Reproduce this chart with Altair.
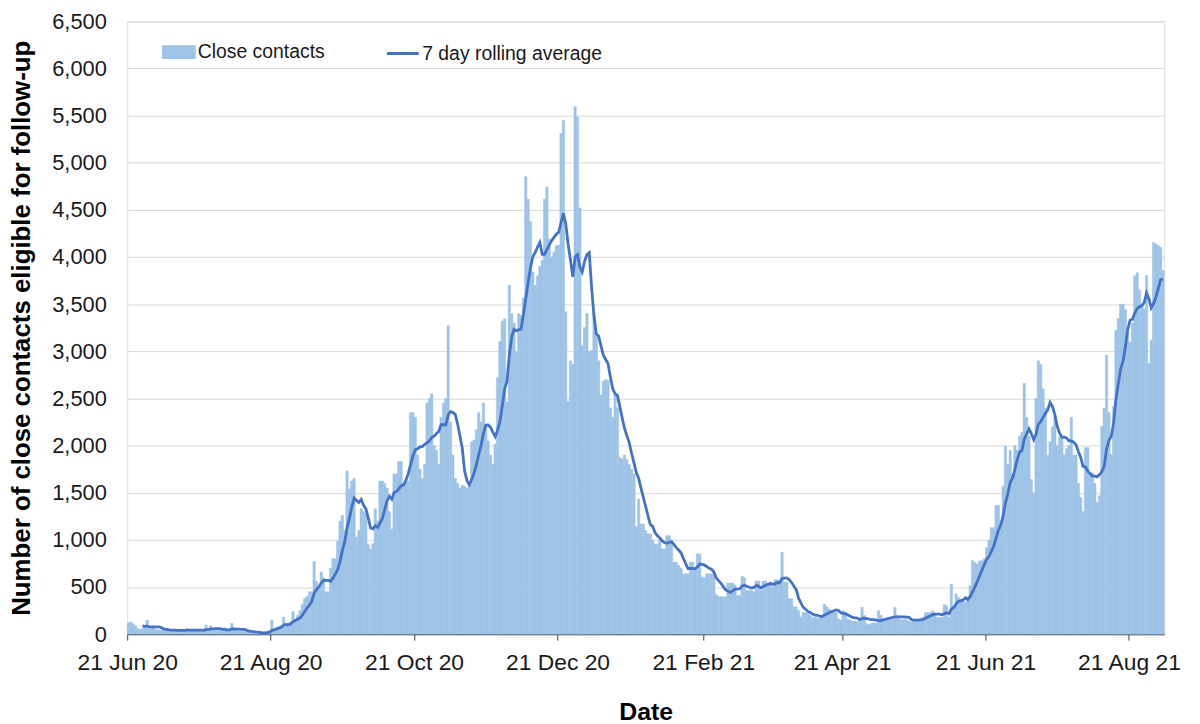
import altair as alt
import pandas as pd
from datetime import datetime, timezone

# Daily close contacts eligible for follow-up (21 Jun 2020 onwards)
jun20 = [120, 130, 110, 90, 60, 50, 60, 80, 150, 80]
jul20 = [70, 60, 50, 45, 40, 45, 50, 40, 35, 40, 45, 35, 40, 45, 40, 60, 40, 35, 40, 45,
         35, 40, 45, 95, 40, 90, 55, 45, 40, 50, 45]
aug20 = [45, 40, 50, 115, 45, 40, 35, 30, 35, 30, 25, 20, 15, 10, 10, 15, 10, 20, 30, 40,
         150, 60, 70, 80, 90, 180, 100, 110, 130, 240, 160]
sep20 = [200, 250, 320, 380, 400, 450, 450, 770, 560, 500, 660, 600, 450, 450, 700, 800,
         800, 990, 1200, 1260, 1100, 1730, 1540, 1625, 1650, 1030, 1100, 1330, 1300, 1280]
oct20 = [950, 900, 960, 1330, 1200, 1625, 1625, 1600, 1550, 1300, 1115, 1700, 1700, 1830,
         1830, 1600, 1640, 1620, 2350, 2350, 2300, 1900, 1750, 1650, 1800, 2450, 2500, 2550,
         2000, 1950, 1800]
nov20 = [2300, 2450, 2500, 3270, 2250, 1900, 1650, 1600, 1550, 1580, 1570, 1550, 1600, 2040,
         2060, 2170, 2350, 2250, 2450, 2200, 2050, 1900, 1800, 2015, 2720, 3106, 3321, 3345,
         2463, 3700]
dec20 = [3400, 3300, 3000, 3400, 3380, 3566, 4852, 4613, 4374, 3841, 3700, 3800, 3900, 3964,
         4613, 4742, 4191, 4000, 4053, 4125, 4124, 5312, 5448, 3420, 2470, 2900, 2860, 5595,
         5484, 4521, 3059]
jan21 = [3253, 3403, 3000, 3012, 3400, 3159, 2900, 2536, 2683, 2700, 2691, 2400, 2300, 2536,
         2400, 1875, 1859, 1900, 1850, 1800, 1750, 1700, 1140, 1434, 1169, 1169, 1100, 1063,
         1063, 1000, 957]
feb21 = [957, 1000, 905, 905, 1045, 1045, 1000, 764, 764, 729, 700, 640, 640, 640, 764, 764,
         700, 852, 850, 605, 600, 640, 640, 640, 640, 420, 400, 400]
mar21 = [394, 400, 542, 542, 542, 520, 412, 412, 612, 600, 465, 465, 465, 450, 563, 563, 465,
         563, 563, 528, 528, 500, 577, 577, 550, 870, 553, 553, 377, 377, 289]
apr21 = [289, 250, 183, 230, 230, 220, 200, 178, 178, 170, 170, 200, 320, 290, 266, 250, 240,
         230, 160, 150, 249, 230, 160, 150, 140, 140, 130, 150, 284, 200]
may21 = [110, 100, 114, 120, 114, 249, 200, 160, 150, 160, 170, 160, 284, 200, 160, 150, 160,
         150, 140, 130, 160, 150, 160, 170, 180, 230, 230, 230, 249, 200, 178]
jun21 = [178, 178, 312, 300, 178, 532, 300, 426, 390, 360, 350, 340, 400, 515, 781, 760, 745,
         778, 778, 800, 919, 1000, 1130, 1130, 1366, 1366, 1200, 1570, 1992, 1800]
jul21 = [1950, 1700, 2000, 1952, 2100, 2140, 2660, 2300, 2100, 1641, 1500, 2500, 2900, 2859,
         2600, 2400, 1900, 2041, 2200, 2300, 2000, 2090, 2100, 1900, 1970, 2000, 2300, 1900,
         1900, 1600, 1450]
aug21 = [1300, 1980, 1980, 1711, 1711, 1600, 1400, 1469, 2204, 2400, 2960, 2350, 1908, 2415,
         3224, 3348, 3500, 3500, 3441, 3200, 3097, 3300, 3800, 3833, 3650, 3500, 3450, 3805,
         2872, 3119, 4157]
sep21 = [4140, 4122, 4104, 3858]

y_ticks = list(range(0, 6501, 500))
x_tick_dates = [(2020, 6, 21), (2020, 8, 21), (2020, 10, 21), (2020, 12, 21),
                (2021, 2, 21), (2021, 4, 21), (2021, 6, 21), (2021, 8, 21)]

BAR_COLOR = "#9DC3E6"
LINE_COLOR = "#4472C4"
FONT = "Liberation Sans"

values = (jun20 + jul20 + aug20 + sep20 + oct20 + nov20 + dec20 + jan21 + feb21 + mar21
          + apr21 + may21 + jun21 + jul21 + aug21 + sep21)

DAY = 86400000
t0 = int(datetime(2020, 6, 21, tzinfo=timezone.utc).timestamp() * 1000)
t = [t0 + i * DAY for i in range(len(values))]
df = pd.DataFrame({
    "t": t,
    "t2": [v + DAY for v in t],
    "tm": [v + DAY // 2 for v in t],
    "value": values,
})


def ms(y, m, d):
    return int(datetime(y, m, d, tzinfo=timezone.utc).timestamp() * 1000)


x_scale = alt.Scale(type="utc", domain=[t0, t0 + len(values) * DAY])
y_scale = alt.Scale(domain=[0, 6500], nice=False)

X_TITLE = "Date"
Y_TITLE = "Number of close contacts eligible for follow-up"

x_axis = alt.Axis(
    values=[ms(*d) for d in x_tick_dates],
    labelExpr="utcFormat(datum.value, '%d %b %y')",
    labelFontSize=23, labelFont=FONT, labelColor="#1a1a1a", labelFlush=False,
    labelPadding=12, tickSize=6, tickColor="#404040", domainColor="#404040",
    domainWidth=1.3, grid=False, title=X_TITLE, titleFont=FONT, titleFontSize=25,
    titleFontWeight="bold", titleColor="#000000", titleX=522, titleY=78,
    titleBaseline="middle",
)
y_axis = alt.Axis(
    values=y_ticks, labelExpr="format(datum.value, ',')",
    labelFontSize=22, labelFont=FONT, labelColor="#1a1a1a",
    ticks=False, tickSize=0, domain=False, labelPadding=21, grid=True,
    gridColor="#d9d9d9", gridWidth=1,
    title=Y_TITLE, titleFont=FONT,
    titleFontSize=26, titleFontWeight="bold", titleColor="#000000",
    titleX=-106, titleY=308.5, titleAngle=270, titleAlign="center",
    titleBaseline="middle",
)

base = alt.Chart(df)

bars = base.transform_calculate(series="'Close contacts'").mark_rect(
    stroke=BAR_COLOR, strokeWidth=0.5
).encode(
    x=alt.X("t:T", scale=x_scale, axis=x_axis, title=X_TITLE),
    x2="t2:T",
    y=alt.Y("value:Q", scale=y_scale, axis=y_axis, title=Y_TITLE),
    y2=alt.datum(0),
    fill=alt.Fill("series:N", scale=alt.Scale(domain=["Close contacts"], range=[BAR_COLOR]),
                  legend=alt.Legend(orient="none", legendX=35, legendY=14, title=None,
                                    padding=0, symbolType="M-1,-0.4H1V0.4H-1Z",
                                    symbolSize=1156, symbolStrokeWidth=0,
                                    labelFont=FONT, labelFontSize=19.5, labelLimit=400,
                                    labelColor="#1a1a1a", labelOffset=2)),
)

line = base.transform_window(
    rolling="mean(value)", n="count()", frame=[-6, 0], sort=[alt.SortField("t")]
).transform_filter("datum.n >= 7").transform_calculate(
    series2="'7 day rolling average'"
).mark_line(strokeWidth=2.8).encode(
    x=alt.X("tm:T", scale=x_scale, axis=x_axis, title=X_TITLE),
    y=alt.Y("rolling:Q", scale=y_scale, axis=y_axis, title=Y_TITLE),
    stroke=alt.Stroke("series2:N",
                      scale=alt.Scale(domain=["7 day rolling average"], range=[LINE_COLOR]),
                      legend=alt.Legend(orient="none", legendX=260, legendY=15, title=None,
                                        padding=0, symbolType="stroke", symbolSize=1024,
                                        symbolStrokeWidth=3, labelFont=FONT,
                                        labelFontSize=19.5, labelLimit=400,
                                        labelColor="#1a1a1a", labelOffset=2)),
)

chart = alt.layer(bars, line).properties(
    width=1044, height=617,
    autosize=alt.AutoSizeParams(type="none"),
    padding={"left": 120, "top": 11, "right": 28, "bottom": 88},
    background="white",
).configure_view(stroke=None).configure(font=FONT)

chart.save("out.html", embed_options={"renderer": "svg", "actions": False})
